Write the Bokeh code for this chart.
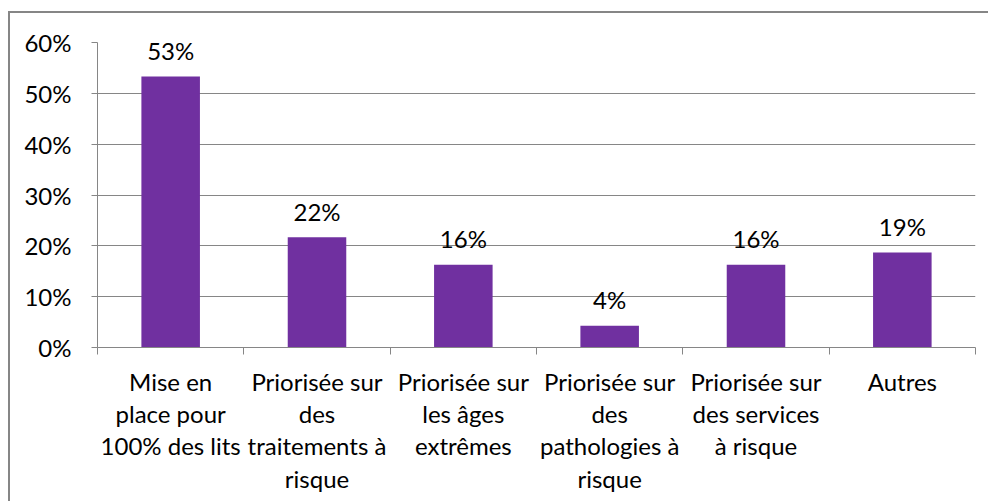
from bokeh.plotting import figure
from bokeh.models import Range1d, FixedTicker, NumeralTickFormatter, ColumnDataSource
from bokeh.core.properties import value
from bokeh.embed import file_html
from bokeh.resources import INLINE

categories = [
    "Mise en\nplace pour\n100% des lits",
    "Priorisée sur\ndes\ntraitements à\nrisque",
    "Priorisée sur\nles âges\nextrêmes",
    "Priorisée sur\ndes\npathologies à\nrisque",
    "Priorisée sur\ndes services\nà risque",
    "Autres",
]
values = [0.533, 0.217, 0.163, 0.043, 0.163, 0.187]
y_ticks = [0.0, 0.1, 0.2, 0.3, 0.4, 0.5, 0.6]

FONT = "Lato"
FS = "24px"
GRAY = "#868686"
PURPLE = "#7030A0"

n = len(categories)
centers = [i + 0.5 for i in range(n)]
labels = [f"{round(v * 100)}%" for v in values]

src = ColumnDataSource(dict(x=centers, top=values, label=labels))

p = figure(width=980, height=490, output_backend="svg", toolbar_location=None,
           x_range=Range1d(0, n), y_range=Range1d(0, 0.6),
           min_border_left=87, min_border_right=15, min_border_top=29, min_border_bottom=156)
p.styles = {"border-left": f"2px solid {GRAY}", "border-top": f"2px solid {GRAY}",
            "margin-top": "11px", "margin-left": "8px"}
p.outline_line_color = None
p.background_fill_color = "white"
p.border_fill_color = "white"

p.vbar(x="x", top="top", width=0.4, source=src, color=PURPLE, line_color=None)
p.text(x="x", y="top", text="label", source=src, text_align="center", text_baseline="alphabetic",
       y_offset=-26, text_font=value(FONT), text_font_size=FS, text_color="black")

# y axis
ya = p.yaxis[0]
ya.ticker = FixedTicker(ticks=y_ticks, minor_ticks=[])
ya.formatter = NumeralTickFormatter(format="0%")
ya.axis_line_color = GRAY
ya.major_tick_line_color = GRAY
ya.major_tick_in = 0
ya.major_tick_out = 6
ya.minor_tick_line_color = None
ya.major_label_standoff = 20
ya.major_label_text_font = FONT
ya.major_label_text_font_size = FS
ya.major_label_text_color = "black"

# x axis
xa = p.xaxis[0]
xa.ticker = FixedTicker(ticks=centers, minor_ticks=[float(i) for i in range(n + 1)])
xa.major_label_overrides = {c: lab for c, lab in zip(centers, categories)}
xa.axis_line_color = GRAY
xa.major_tick_line_color = None
xa.major_tick_in = 0
xa.major_tick_out = 0
xa.minor_tick_line_color = GRAY
xa.minor_tick_in = 0
xa.minor_tick_out = 7
xa.major_label_standoff = 12
xa.major_label_text_font = FONT
xa.major_label_text_font_size = FS
xa.major_label_text_color = "black"
xa.major_label_text_line_height = 1.12

p.xgrid.visible = False
p.ygrid.ticker = FixedTicker(ticks=y_ticks)
p.ygrid.grid_line_color = GRAY
p.ygrid.grid_line_width = 1

open("out.html", "w").write(file_html(p, INLINE))
